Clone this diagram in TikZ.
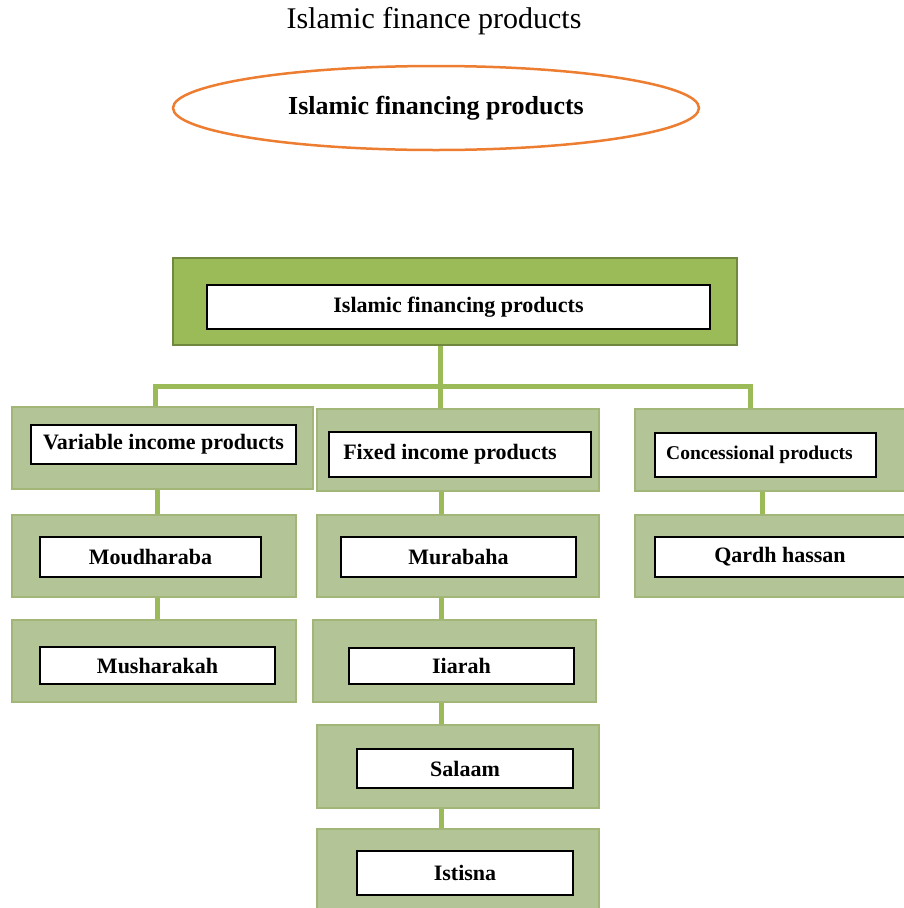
\documentclass[tikz,border=0pt]{standalone}
\usepackage{fontspec}
\setmainfont{Liberation Serif}
\usetikzlibrary{shapes.geometric,backgrounds}
\definecolor{dgreen}{HTML}{9BBB59}
\definecolor{dborder}{HTML}{71893F}
\definecolor{lgfill}{HTML}{B3C496}
\definecolor{lgborder}{HTML}{A2B678}
\definecolor{orng}{HTML}{ED7D31}
\tikzset{
  outerbox/.style={draw=lgborder, line width=2pt, fill=lgfill, inner sep=0pt},
  topbox/.style={draw=dborder, line width=2.5pt, fill=dgreen, inner sep=0pt},
  innerbox/.style={draw=black, line width=1.2pt, fill=white, inner sep=0pt,
    font=\fontsize{22}{26}\selectfont\bfseries},
  link/.style={draw=dgreen, line width=5pt}
}
\begin{document}
\begin{tikzpicture}[x=1pt,y=-1pt]
\useasboundingbox (0,0) rectangle (904,908);
\clip (0,0) rectangle (904,908);
% title and ellipse
\node (title) at (434,21) {\fontsize{30}{34}\selectfont Islamic finance products};
\node (ell) [ellipse, draw=orng, line width=2.5pt, minimum width=526pt, minimum height=84pt, inner sep=0pt,
  font=\fontsize{26}{30}\selectfont\bfseries] at (436,108) {Islamic financing products};
% top box
\node (top) [topbox, minimum width=564pt, minimum height=87pt] at (455,301.5) {};
\node (topi) [innerbox, minimum width=503pt, minimum height=44pt] at (458.5,307) {Islamic financing products};
% level 1
\node (l1L) [outerbox, minimum width=301pt, minimum height=82pt] at (162.5,448) {};
\node (l1Li) [innerbox, minimum width=265pt, minimum height=39pt] at (163.5,444.5) {Variable income products};
\node (l1M) [outerbox, minimum width=282pt, minimum height=82pt] at (458,450) {};
\node (l1Mi) [innerbox, minimum width=262pt, minimum height=45pt] at (460,454.5) {Fixed income products\kern20pt\relax};
\node (l1R) [outerbox, minimum width=290pt, minimum height=82pt] at (780,450) {};
\node (l1Ri) [innerbox, minimum width=221pt, minimum height=44pt, font=\fontsize{19.5}{23}\selectfont\bfseries] at (765.5,455) {Concessional products\kern12pt\relax};
% level 2
\node (l2L) [outerbox, minimum width=284pt, minimum height=82pt] at (154,556) {};
\node (l2Li) [innerbox, minimum width=221pt, minimum height=40pt] at (150.5,557) {Moudharaba};
\node (l2M) [outerbox, minimum width=282pt, minimum height=82pt] at (458,556) {};
\node (l2Mi) [innerbox, minimum width=235pt, minimum height=40pt] at (458.5,557) {Murabaha};
\node (l2R) [outerbox, minimum width=290pt, minimum height=82pt] at (780,556) {};
\node (l2Ri) [innerbox, minimum width=250pt, minimum height=40pt] at (780,557) {Qardh hassan};
% level 3
\node (l3L) [outerbox, minimum width=284pt, minimum height=82pt] at (154,661) {};
\node (l3Li) [innerbox, minimum width=235pt, minimum height=37pt] at (157.5,665.5) {Musharakah};
\node (l3M) [outerbox, minimum width=283pt, minimum height=82pt] at (454.5,661) {};
\node (l3Mi) [innerbox, minimum width=225pt, minimum height=36pt] at (461.5,666) {Iiarah};
% level 4 and 5
\node (l4M) [outerbox, minimum width=282pt, minimum height=83pt] at (458,766.5) {};
\node (l4Mi) [innerbox, minimum width=216pt, minimum height=39pt] at (465,768.5) {Salaam};
\node (l5M) [outerbox, minimum width=282pt, minimum height=82pt] at (458,870) {};
\node (l5Mi) [innerbox, minimum width=216pt, minimum height=44pt] at (465,873) {Istisna};
% connectors
\coordinate (bus) at (440,386);
\coordinate (busL) at (155,386);
\coordinate (busR) at (750,386);
\coordinate (colL) at (157,0);
\coordinate (colM) at (441,0);
\coordinate (colR) at (762,0);
\begin{scope}[on background layer]
\draw[link] (top.south -| bus) -- (bus |- l1M.north);
\draw[link] (busL |- l1L.north) -- (busL) -- (busR) -- (busR |- l1R.north);
\draw[link] (l1L.south -| colL) -- (l2L.north -| colL);
\draw[link] (l2L.south -| colL) -- (l3L.north -| colL);
\draw[link] (l1M.south -| colM) -- (l2M.north -| colM);
\draw[link] (l2M.south -| colM) -- (l3M.north -| colM);
\draw[link] (l3M.south -| colM) -- (l4M.north -| colM);
\draw[link] (l4M.south -| colM) -- (l5M.north -| colM);
\draw[link] (l1R.south -| colR) -- (l2R.north -| colR);
\end{scope}
\end{tikzpicture}
\end{document}
